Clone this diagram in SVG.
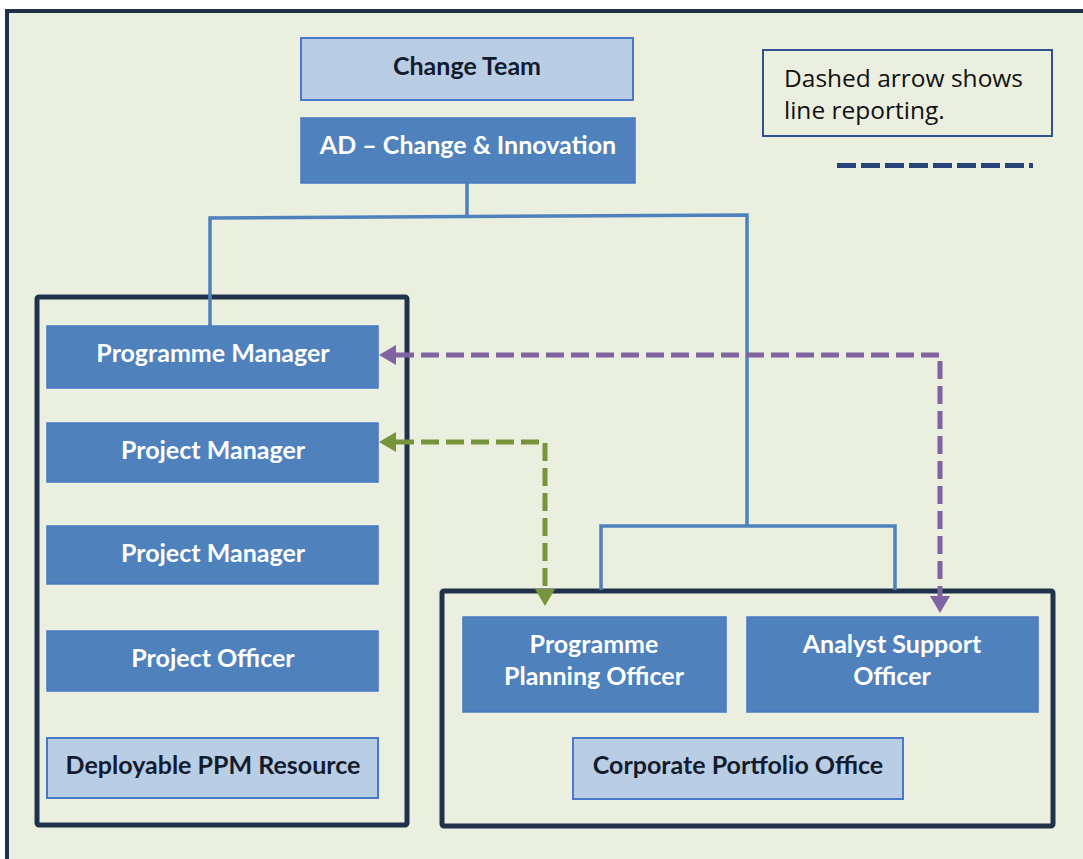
<svg xmlns="http://www.w3.org/2000/svg" width="1083" height="859" viewBox="0 0 1083 859">
  <defs>
    <style>
      .frame { fill: #EBEFDF; stroke: #1F3249; stroke-width: 4; }
      .group { fill: none; stroke: #1F3249; stroke-width: 5; }
      .node-dark { fill: #4F81BD; stroke: #4A78C8; stroke-width: 1.5; }
      .node-light { fill: #B9CDE5; stroke: #4A78C8; stroke-width: 2; }
      .label { font-family: Lato, "Liberation Sans", sans-serif; font-weight: 700; font-size: 25px; text-anchor: middle; }
      .label-dark { fill: #FFFFFF; }
      .label-light { fill: #121C2E; }
      .tree { fill: none; stroke: #4F81BD; stroke-width: 3.5; stroke-linejoin: miter; }
      .report { fill: none; stroke-width: 5; stroke-dasharray: 18 7; }
      .legend-box { fill: none; stroke: #2F528F; stroke-width: 2; }
      .legend-text { font-family: "Open Sans", "Liberation Sans", sans-serif; font-size: 24.5px; fill: #111111; }
    </style>
    <marker id="head-purple" markerUnits="userSpaceOnUse" markerWidth="17" markerHeight="22" refX="0" refY="11" orient="auto-start-reverse" viewBox="0 0 17 22">
      <path d="M0 1 L17 11 L0 21 Z" fill="#8064A2"/>
    </marker>
    <marker id="head-green" markerUnits="userSpaceOnUse" markerWidth="17" markerHeight="22" refX="0" refY="11" orient="auto-start-reverse" viewBox="0 0 17 22">
      <path d="M0 1 L17 11 L0 21 Z" fill="#77933C"/>
    </marker>
  </defs>

  <!-- page background and outer frame -->
  <rect x="0" y="0" width="1083" height="859" fill="#FFFFFF"/>
  <rect class="frame" x="7" y="11" width="1090" height="870"/>

  <!-- team containers -->
  <rect id="delivery-team" class="group" x="37" y="297" width="370" height="528" rx="2"/>
  <rect id="portfolio-team" class="group" x="442" y="591" width="611" height="235" rx="2"/>

  <!-- reporting lines -->
  <g id="connectors">
    <path class="tree" d="M467 183 V217"/>
    <path class="tree" d="M210 326 V218 L747 215 V526"/>
    <path class="tree" d="M601 590 V526 H895 V590"/>
    <path class="report" stroke="#8064A2" d="M396 355 H940 V596" marker-start="url(#head-purple)" marker-end="url(#head-purple)"/>
    <path class="report" stroke="#77933C" d="M396 442 H545 V589" marker-start="url(#head-green)" marker-end="url(#head-green)"/>
  </g>

  <g id="change-team">
    <rect class="node-light" x="301" y="38" width="332" height="62"/>
    <text class="label label-light" x="467" y="75">Change Team</text>
  </g>

  <g id="ad-change-innovation">
    <rect class="node-dark" x="301" y="118" width="334" height="65"/>
    <text class="label label-dark" x="468" y="154">AD – Change &amp; Innovation</text>
  </g>

  <g id="programme-manager">
    <rect class="node-dark" x="47" y="326" width="331" height="62"/>
    <text class="label label-dark" x="213" y="362">Programme Manager</text>
  </g>

  <g id="project-manager-1">
    <rect class="node-dark" x="47" y="423" width="331" height="59"/>
    <text class="label label-dark" x="213" y="459">Project Manager</text>
  </g>

  <g id="project-manager-2">
    <rect class="node-dark" x="47" y="526" width="331" height="58"/>
    <text class="label label-dark" x="213" y="562">Project Manager</text>
  </g>

  <g id="project-officer">
    <rect class="node-dark" x="47" y="631" width="331" height="60"/>
    <text class="label label-dark" x="213" y="667">Project Officer</text>
  </g>

  <g id="deployable-ppm-resource">
    <rect class="node-light" x="47" y="738" width="331" height="60"/>
    <text class="label label-light" x="213" y="774">Deployable PPM Resource</text>
  </g>

  <g id="programme-planning-officer">
    <rect class="node-dark" x="463" y="617" width="263" height="95"/>
    <text class="label label-dark" x="594" y="653">Programme</text>
    <text class="label label-dark" x="594" y="685">Planning Officer</text>
  </g>

  <g id="analyst-support-officer">
    <rect class="node-dark" x="747" y="617" width="291" height="95"/>
    <text class="label label-dark" x="892" y="653">Analyst Support</text>
    <text class="label label-dark" x="892" y="685">Officer</text>
  </g>

  <g id="corporate-portfolio-office">
    <rect class="node-light" x="573" y="738" width="330" height="61"/>
    <text class="label label-light" x="738" y="774">Corporate Portfolio Office</text>
  </g>

  <!-- key -->
  <g id="legend">
    <rect class="legend-box" x="763" y="50" width="289" height="86"/>
    <text class="legend-text" x="784" y="87">Dashed arrow shows</text>
    <text class="legend-text" x="784" y="119">line reporting.</text>
    <path d="M837 165.5 H1033" fill="none" stroke="#264478" stroke-width="5" stroke-dasharray="19 5"/>
  </g>
</svg>
